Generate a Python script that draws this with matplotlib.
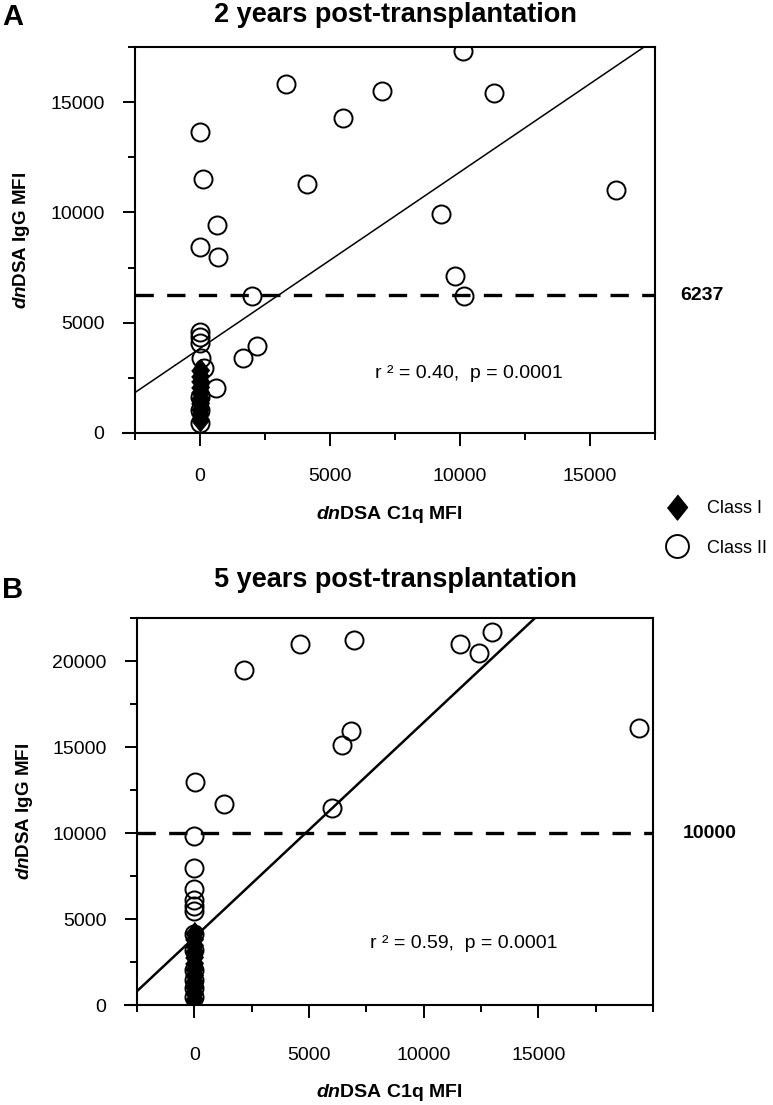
import numpy as np
import matplotlib
matplotlib.use("Agg")
import matplotlib.pyplot as plt
from matplotlib.lines import Line2D
from matplotlib.ticker import FixedLocator

plt.rcParams["font.family"] = ["Liberation Sans", "DejaVu Sans"]
plt.rcParams["mathtext.fontset"] = "custom"
plt.rcParams["mathtext.it"] = "Liberation Sans:italic:bold"
plt.rcParams["mathtext.rm"] = "Liberation Sans:bold"

# ---- panel A: 2 years ----
a_c2_x = [10100, 3300, 7000, 11300, 5500, 0, 100, 4100, 9250, 650, 0, 700, 9800, 2000,
          10150, 2200, 1650, 16000, 0, 0, 0, 50, 150, 600, 0, 0, 0]
a_c2_y = [17300, 15800, 15500, 15400, 14300, 13650, 11500, 11300, 9950, 9450, 8450, 8000, 7100, 6200,
          6200, 3950, 3400, 11000, 4600, 4330, 4080, 3420, 2950, 2050, 1650, 1050, 450]
a_c1_x = [0, 0, 0, 0, 0, 0, 0, 0, 0, 0]
a_c1_y = [2850, 2600, 2350, 2100, 1850, 1600, 1350, 1100, 850, 600]
a_fit = (0.80, 3835)      # slope, intercept
a_cut = 6237
a_stats = "r \u00b2 = 0.40,  p = 0.0001"

# ---- panel B: 5 years ----
b_c2_x = [13000, 11600, 12400, 6950, 4600, 2150, 6850, 6450, 50, 1300, 6000, 19400,
          0, 0, 0, 0, 0, 0, 0, 0, 0, 0, 0, 0]
b_c2_y = [21700, 21000, 20450, 21250, 21000, 19500, 15950, 15100, 12950, 11700, 11450, 16100,
          9800, 7950, 6750, 6100, 5750, 5450, 4150, 3200, 2050, 1450, 1000, 450]
b_c1_x = [0, 0, 0, 0, 0, 0, 0, 0, 0, 0, 0, 0]
b_c1_y = [4200, 3850, 3500, 3150, 2800, 2450, 2100, 1750, 1400, 1050, 700, 350]
b_fit = (1.25, 3930)
b_cut = 10000
b_stats = "r \u00b2 = 0.59,  p = 0.0001"

W, H = 773, 1105
DIAMOND = [(0, 1), (0.8, 0), (0, -1), (-0.8, 0)]
SPINE_LW = 1.5


def px_axes(l, t, r, b):
    return [l / W, 1 - b / H, (r - l) / W, (b - t) / H]


def panel(fig, rect, xs, ys, c1x, c1y, fit, cut, stats, xlim, ylim, xminor, yminor,
          title, title_pad, xpad, xlab_y, cut_x, stats_xy, fit_lw):
    ax = fig.add_axes(rect)
    ax.plot(xs, ys, linestyle="none", marker="o", ms=13, mfc="none", mec="black", mew=1.4, zorder=3)
    ax.plot(c1x, c1y, linestyle="none", marker=DIAMOND, ms=16, mfc="black", mec="black", mew=0.8, zorder=4)
    fx = np.array(xlim, dtype=float)
    ax.plot(fx, fit[0] * fx + fit[1], color="black", lw=fit_lw, zorder=2)
    ax.axhline(cut, color="black", lw=2.4, dashes=(5.5, 4), zorder=2)
    ax.text(cut_x, cut, f"{cut}", transform=ax.get_yaxis_transform(), ha="left", va="center",
            fontsize=14, fontweight="bold")
    ax.text(stats_xy[0], stats_xy[1], stats, transform=ax.transAxes, ha="left", va="center", fontsize=14)

    ax.set_xlim(*xlim)
    ax.set_ylim(*ylim)
    ax.xaxis.set_major_locator(FixedLocator([0, 5000, 10000, 15000]))
    ax.xaxis.set_minor_locator(FixedLocator(xminor))
    ax.yaxis.set_major_locator(FixedLocator(np.arange(0, ylim[1], 5000)))
    ax.yaxis.set_minor_locator(FixedLocator(yminor))
    ax.tick_params(which="major", direction="out", length=9, width=1.4, labelsize=14)
    ax.tick_params(which="minor", direction="out", length=5.2, width=1.4)
    ax.tick_params(axis="x", which="major", pad=xpad)
    ax.tick_params(axis="y", which="major", pad=13)
    for s in ax.spines.values():
        s.set_linewidth(SPINE_LW)
    # x axis line runs on past the left spine, Prism style
    ax.plot([-0.025, 0], [0, 0], transform=ax.transAxes, clip_on=False, color="black",
            lw=SPINE_LW, solid_capstyle="butt")

    ax.set_xlabel(r"$\mathit{dn}$DSA C1q MFI", fontsize=14, fontweight="bold")
    ax.xaxis.set_label_coords(0.49, xlab_y)
    ax.set_ylabel(r"$\mathit{dn}$DSA IgG MFI", fontsize=13.5, fontweight="bold")
    ax.yaxis.set_label_coords(-0.198, 0.5)
    ax.set_title(title, fontsize=19.5, fontweight="bold", pad=title_pad)
    return ax


def main() -> None:
    fig = plt.figure(figsize=(W / 100, H / 100), dpi=100)

    panel(fig, px_axes(135, 47, 655, 433), a_c2_x, a_c2_y, a_c1_x, a_c1_y, a_fit, a_cut, a_stats,
          (-2500, 17500), (0, 17500), [-2500, 2500, 7500, 12500, 17500], [2500, 7500, 12500, 17500],
          "2 years post-transplantation", 18, 16, -0.185, 1.048, (0.4615, 0.153), 1.1)
    panel(fig, px_axes(137, 618, 653, 1005), b_c2_x, b_c2_y, b_c1_x, b_c1_y, b_fit, b_cut, b_stats,
          (-2500, 20000), (0, 22500), [-2500, 2500, 7500, 12500, 17500, 20000],
          [2500, 7500, 12500, 17500, 22500],
          "5 years post-transplantation", 22, 21, -0.2, 1.058, (0.4516, 0.160), 1.8)

    fig.text(2 / W, 1 - 25 / H, "A", fontsize=21, fontweight="bold", ha="left", va="baseline")
    fig.text(2 / W, 1 - 598 / H, "B", fontsize=21, fontweight="bold", ha="left", va="baseline")

    handles = [
        Line2D([0], [0], linestyle="none", marker=DIAMOND, ms=18, mfc="black", mec="black"),
        Line2D([0], [0], linestyle="none", marker="o", ms=16.5, mfc="none", mec="black", mew=1.4),
    ]
    fig.legend(handles, ["Class I", "Class II"], loc="upper left", bbox_to_anchor=(663 / W, 1 - 500 / H),
               frameon=False, fontsize=13, handlelength=1.5, handletextpad=0.95, labelspacing=1.25,
               borderpad=0, borderaxespad=0)

    fig.savefig("out.png", dpi=100)


if __name__ == "__main__":
    main()
